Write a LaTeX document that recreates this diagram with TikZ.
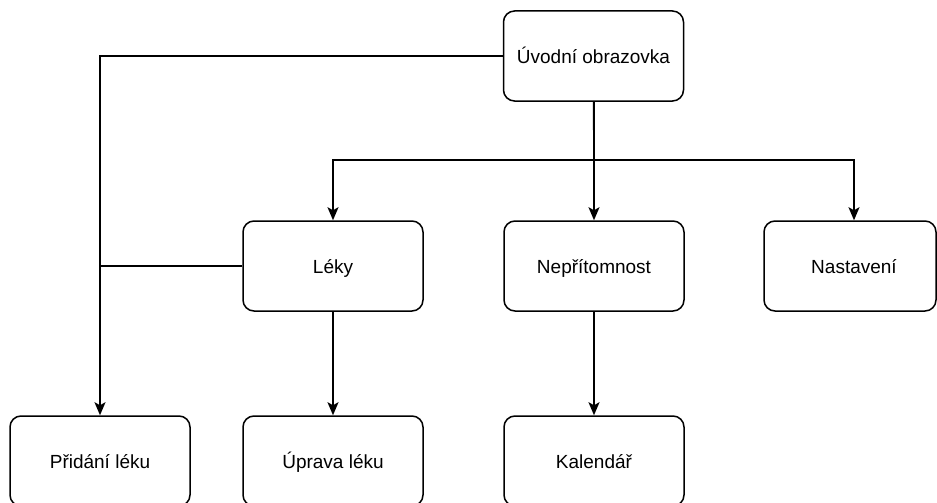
\documentclass[tikz,border=0pt]{standalone}
\usepackage{fontspec}
\setmainfont{Liberation Sans}
\usetikzlibrary{arrows.meta}
\begin{document}
\begin{tikzpicture}[x=1pt,y=-1pt,
  label text/.style={font=\fontsize{19}{22}\selectfont, text height=15.4pt, text depth=0pt},
  screen/.style={draw=black, line width=1.5pt, rounded corners=11pt, fill=white,
    minimum width=180pt, minimum height=90pt, inner sep=0pt, label text},
  link/.style={draw=black, line width=1.5pt},
  arr/.style={link, -{Stealth[length=13pt,width=11pt,inset=3pt]}}]
  % page area
  \fill[white] (0,0) rectangle (937,503);
  \useasboundingbox (0,0) rectangle (937,503);

  % screens
  \node[screen] (uvod) at (593.5,56) {Úvodní obrazovka};
  \node[screen] (leky) at (333,266) {Léky};
  \node[screen] (nepr) at (594,266) {Nepřítomnost};
  \node[screen, minimum width=172pt] (nast) at (850,266) {};
  \node[label text, inner sep=0pt] (nasttext) at (854,266) {Nastavení};
  \node[screen] (pridani) at (100,461) {Přidání léku};
  \node[screen] (uprava) at (333,461) {Úprava léku};
  \node[screen] (kal) at (594,461) {Kalendář};

  % branching point below the start screen
  \coordinate (split) at (594,160);

  % connectors
  \draw[arr] (uvod.west) -| (pridani.north);
  \draw[link] (uvod.south) -- (split);
  \draw[arr] (split) -| (leky.north);
  \draw[arr] (split) -| (nasttext.north |- nast.north);
  \draw[arr] (uvod.south -| nepr.north) -- (nepr.north);
  \draw[link] (leky.west) -- (leky.west -| pridani.north);
  \draw[arr] (leky.south) -- (uprava.north);
  \draw[arr] (nepr.south) -- (kal.north);
\end{tikzpicture}
\end{document}
